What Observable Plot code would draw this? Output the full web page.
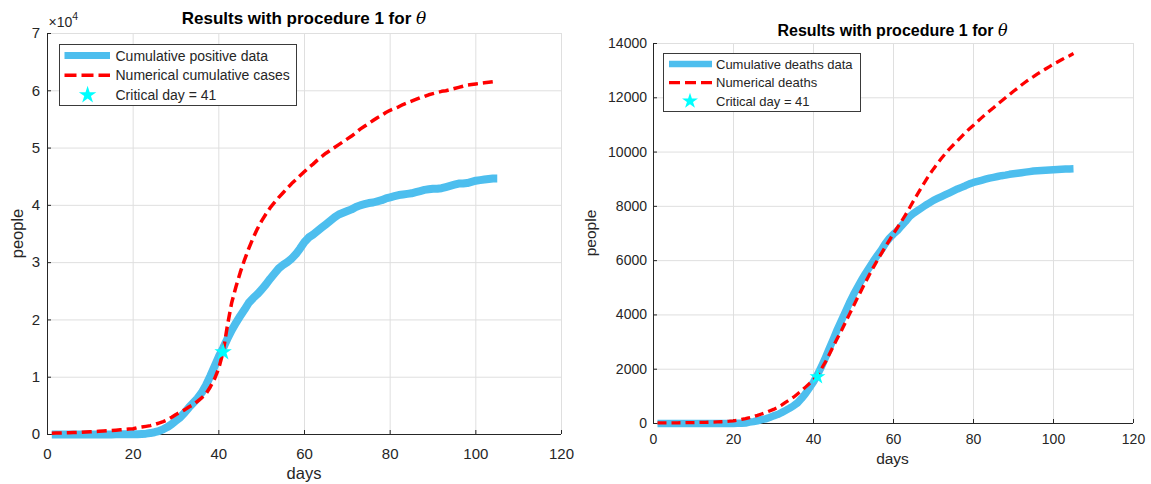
<!DOCTYPE html>
<html>
<head>
<meta charset="utf-8">
<script src="https://cdn.jsdelivr.net/npm/d3@7"></script>
<script src="https://cdn.jsdelivr.net/npm/@observablehq/plot@0.6"></script>
<style>
html, body { margin: 0; padding: 0; background: #fff; }
#fig { position: relative; width: 1151px; height: 484px; overflow: hidden; background: #fff;
       font-family: "Liberation Sans", Arial, Helvetica, sans-serif; }
#fig > svg { position: absolute; top: 0; }
</style>
</head>
<body>
<div id="fig"></div>
<script>
// ---------------- data ----------------
const days = [1,2,3,4,5,6,7,8,9,10,11,12,13,14,15,16,17,18,19,20,21,22,23,24,25,26,27,28,29,30,
  31,32,33,34,35,36,37,38,39,40,41,42,43,44,45,46,47,48,49,50,51,52,53,54,55,56,57,58,59,60,
  61,62,63,64,65,66,67,68,69,70,71,72,73,74,75,76,77,78,79,80,81,82,83,84,85,86,87,88,89,90,
  91,92,93,94,95,96,97,98,99,100,101,102,103,104,105];

// left panel: cumulative positive data (people)
const positiveData = [0,0,0,0,0,0,0,0,0,0,10,10,10,20,20,30,30,40,50,60,
  60,100,150,250,400,600,900,1300,1800,2400,3000,3800,4700,5500,6300,7300,8600,10200,11900,13600,
  15100,16700,18200,19500,20700,21800,23000,23800,24500,25300,26200,27200,28100,29000,29600,30100,30700,31500,32500,33600,
  34400,34900,35500,36100,36700,37300,37900,38400,38700,39000,39300,39700,40000,40200,40400,40500,40700,40900,41200,41400,
  41600,41800,41900,42000,42100,42300,42500,42700,42800,42900,42900,43000,43200,43400,43600,43800,43800,43900,44100,44300,
  44400,44500,44600,44700,44700];
// left panel: numerical cumulative cases (people)
const numericalCases = [230,250,270,290,310,340,370,400,440,480,520,560,600,650,700,760,830,890,950,1000,
  1200,1300,1420,1550,1750,2000,2250,2550,3000,3500,3900,4300,4800,5200,5800,6400,7100,8300,9700,11600,
  14400,19000,23000,25800,28300,30500,32500,34300,35900,37300,38500,39600,40500,41400,42200,43000,43800,44500,45200,45900,
  46600,47200,47900,48500,49100,49600,50100,50600,51100,51600,52100,52700,53300,53800,54300,54800,55300,55700,56200,56600,
  56900,57200,57600,57900,58200,58500,58800,59000,59300,59500,59700,59900,60000,60200,60400,60600,60800,61000,61100,61200,
  61300,61400,61500,61600,61700];

// right panel: cumulative deaths data (people)
const deathsData = [0,0,0,0,0,0,0,0,0,0,0,0,0,0,0,0,0,0,0,0,
  5,10,20,50,70,100,140,170,220,280,330,400,480,560,650,760,920,1100,1310,1530,
  1800,2100,2430,2780,3120,3480,3800,4120,4450,4750,5020,5280,5530,5760,5990,6200,6400,6640,6830,6980,
  7110,7280,7440,7620,7740,7840,7940,8040,8130,8220,8290,8360,8430,8500,8570,8640,8700,8760,8830,8880,
  8920,8960,9000,9040,9070,9100,9130,9150,9180,9200,9220,9240,9260,9280,9300,9310,9320,9330,9340,9350,
  9360,9370,9375,9380,9385];
// right panel: numerical deaths (people)
const numericalDeaths = [21,22,23,24,25,26,28,30,32,35,37,40,43,47,52,58,65,75,85,100,
  120,150,180,215,255,300,350,400,460,520,590,680,780,870,970,1090,1210,1340,1470,1600,
  1780,2020,2270,2560,2860,3150,3430,3730,4030,4330,4630,4920,5210,5490,5760,6020,6270,6520,6760,7000,
  7220,7450,7690,7940,8200,8450,8700,8940,9170,9380,9580,9770,9950,10120,10270,10420,10570,10720,10860,10990,
  11130,11260,11390,11510,11630,11760,11880,12000,12120,12240,12350,12470,12580,12690,12780,12880,12970,13060,13150,13240,
  13320,13400,13480,13550,13630];

const criticalDay = 41;
const criticalCases = 14400;
const criticalDeaths = 1720;

const xTicks = [0, 20, 40, 60, 80, 100, 120];
const yTicksLeft = [0, 10000, 20000, 30000, 40000, 50000, 60000, 70000];
const yTicksRight = [0, 2000, 4000, 6000, 8000, 10000, 12000, 14000];

const titleText = "Results with procedure 1 for ";
const titleSymbol = "θ";
const legendLeft = ["Cumulative positive data", "Numerical cumulative cases", "Critical day = 41"];
const legendRight = ["Cumulative deaths data", "Numerical deaths", "Critical day = 41"];

// ---------------- build ----------------
const BLUE = "#4DBEEE", RED = "#FF0000", CYAN = "#00FFFF", AX = "#262626", GRID = "#dfdfdf";
const FONT = '"Liberation Sans", Arial, Helvetica, sans-serif';

const leftRows = days.map((d, i) => ({day: d, data: positiveData[i], model: numericalCases[i]}));
const rightRows = days.map((d, i) => ({day: d, data: deathsData[i], model: numericalDeaths[i]}));

function panel(cfg) {
  const H = 484;
  const frameW = cfg.width - cfg.ml - cfg.mr;
  const frameH = H - cfg.mt - cfg.mb;
  const tick = 4;
  return Plot.plot({
    width: cfg.width, height: H,
    marginLeft: cfg.ml, marginRight: cfg.mr, marginTop: cfg.mt, marginBottom: cfg.mb,
    style: {fontFamily: FONT, fontSize: cfg.tickFont + "px", color: AX, background: "transparent", overflow: "visible"},
    x: {domain: [0, 120]},
    y: {domain: cfg.yDomain},
    marks: [
      Plot.gridX(xTicks, {stroke: GRID, strokeOpacity: 1}),
      Plot.gridY(cfg.yTicks, {stroke: GRID, strokeOpacity: 1}),
      Plot.ruleX([0], {stroke: AX, strokeWidth: 1}),
      Plot.ruleY([0], {stroke: AX, strokeWidth: 1}),
      // inward tick marks
      Plot.tickX(xTicks, {x: d => d, stroke: AX, insetTop: frameH - tick}),
      Plot.tickY(cfg.yTicks, {y: d => d, stroke: AX, insetRight: frameW - tick}),
      Plot.axisX(xTicks, {tickSize: 0, tickPadding: cfg.xPad, label: null, fill: AX, tickFormat: d => String(d)}),
      Plot.axisY(cfg.yTicks, {tickSize: 0, tickPadding: cfg.yPad, label: null, fill: AX, tickFormat: cfg.yFmt}),
      Plot.line(cfg.rows, {x: "day", y: "data", stroke: BLUE, strokeWidth: cfg.blueW, strokeLinecap: "butt", strokeLinejoin: "round"}),
      Plot.line(cfg.rows, {x: "day", y: "model", stroke: RED, strokeWidth: cfg.redW, strokeDasharray: cfg.dash, strokeLinecap: "butt"}),
      Plot.dot([{day: criticalDay, v: cfg.star}], {x: "day", y: "v", symbol: "star", fill: CYAN, stroke: null, r: cfg.starR})
    ]
  });
}

const fig = document.getElementById("fig");

const left = panel({width: 580, ml: 47, mr: 19, mt: 33, mb: 50, yDomain: [0, 70000], yTicks: yTicksLeft,
  yFmt: d => String(d / 10000), rows: leftRows, star: criticalCases, tickFont: 15, xPad: 14, yPad: 7.5,
  blueW: 8, redW: 3.5, dash: "10,5", starR: 5.5});
left.style.left = "0px";
fig.appendChild(left);

const right = panel({width: 571, ml: 73, mr: 18, mt: 43, mb: 61, yDomain: [0, 14000], yTicks: yTicksRight,
  yFmt: d => String(d), rows: rightRows, star: criticalDeaths, tickFont: 14, xPad: 11, yPad: 6.5,
  blueW: 7.5, redW: 3.3, dash: "9,5", starR: 5});
right.style.left = "580px";
fig.appendChild(right);

// ---------------- overlay: titles, labels, legends ----------------
const ov = d3.select(fig).append("svg").attr("width", 1151).attr("height", 484)
  .style("left", "0px").style("font-family", FONT);

function title(cx, baseline, size) {
  const t = ov.append("text").attr("x", cx).attr("y", baseline).attr("text-anchor", "middle")
    .attr("font-weight", "bold").attr("font-size", size).attr("fill", "#000");
  t.append("tspan").text(titleText);
  t.append("tspan").attr("font-style", "italic").attr("font-weight", "normal")
    .attr("font-family", '"DejaVu Serif", "Liberation Serif", serif').text(titleSymbol);
}
title(304, 24, 17);
title(892.5, 36, 16);

function axisLabels(cx, xBase, cy, yBase, size) {
  ov.append("text").attr("x", cx).attr("y", xBase).attr("text-anchor", "middle")
    .attr("font-size", size).attr("fill", AX).text("days");
  ov.append("text").attr("transform", `translate(${yBase},${cy}) rotate(-90)`).attr("text-anchor", "middle")
    .attr("font-size", size).attr("fill", AX).text("people");
}
axisLabels(304, 479, 233.5, 23, 16.5);
axisLabels(892.5, 464, 233, 596, 15.5);

// x10^4 exponent label
const ex = ov.append("text").attr("x", 48.5).attr("y", 26.5).attr("font-size", 14).attr("fill", AX);
ex.append("tspan").text("×10");
ex.append("tspan").attr("dy", -7).attr("font-size", 10.5).text("4");

function legend(box, rows, sx1, sx2, tx, starX, size, blueW, redW, dash, starR) {
  const g = ov.append("g");
  g.append("rect").attr("x", box[0] + 0.5).attr("y", box[1] + 0.5).attr("width", box[2] - box[0])
    .attr("height", box[3] - box[1]).attr("fill", "#fff").attr("stroke", "#3a3a3a").attr("stroke-width", 1);
  const labels = box[4];
  g.append("line").attr("x1", sx1).attr("x2", sx2).attr("y1", rows[0]).attr("y2", rows[0])
    .attr("stroke", BLUE).attr("stroke-width", blueW);
  g.append("line").attr("x1", sx1).attr("x2", sx2).attr("y1", rows[1]).attr("y2", rows[1])
    .attr("stroke", RED).attr("stroke-width", redW).attr("stroke-dasharray", dash);
  g.append("path").attr("d", d3.symbol(d3.symbolStar, Math.PI * starR * starR)())
    .attr("transform", `translate(${starX},${rows[2]})`).attr("fill", CYAN);
  labels.forEach((s, i) => {
    g.append("text").attr("x", tx).attr("y", rows[i]).attr("dy", "0.35em").attr("font-size", size)
      .attr("fill", AX).text(s);
  });
}
legend([59, 44, 296, 105, legendLeft], [55.6, 75.3, 95], 64.5, 110, 115.5, 87.6, 14, 7, 3.5, "12,5", 5.5);
legend([663, 53, 860, 111, legendRight], [64, 82.7, 101], 669, 712, 716, 690, 13, 6.5, 3.3, "11,5", 5);
</script>
</body>
</html>
